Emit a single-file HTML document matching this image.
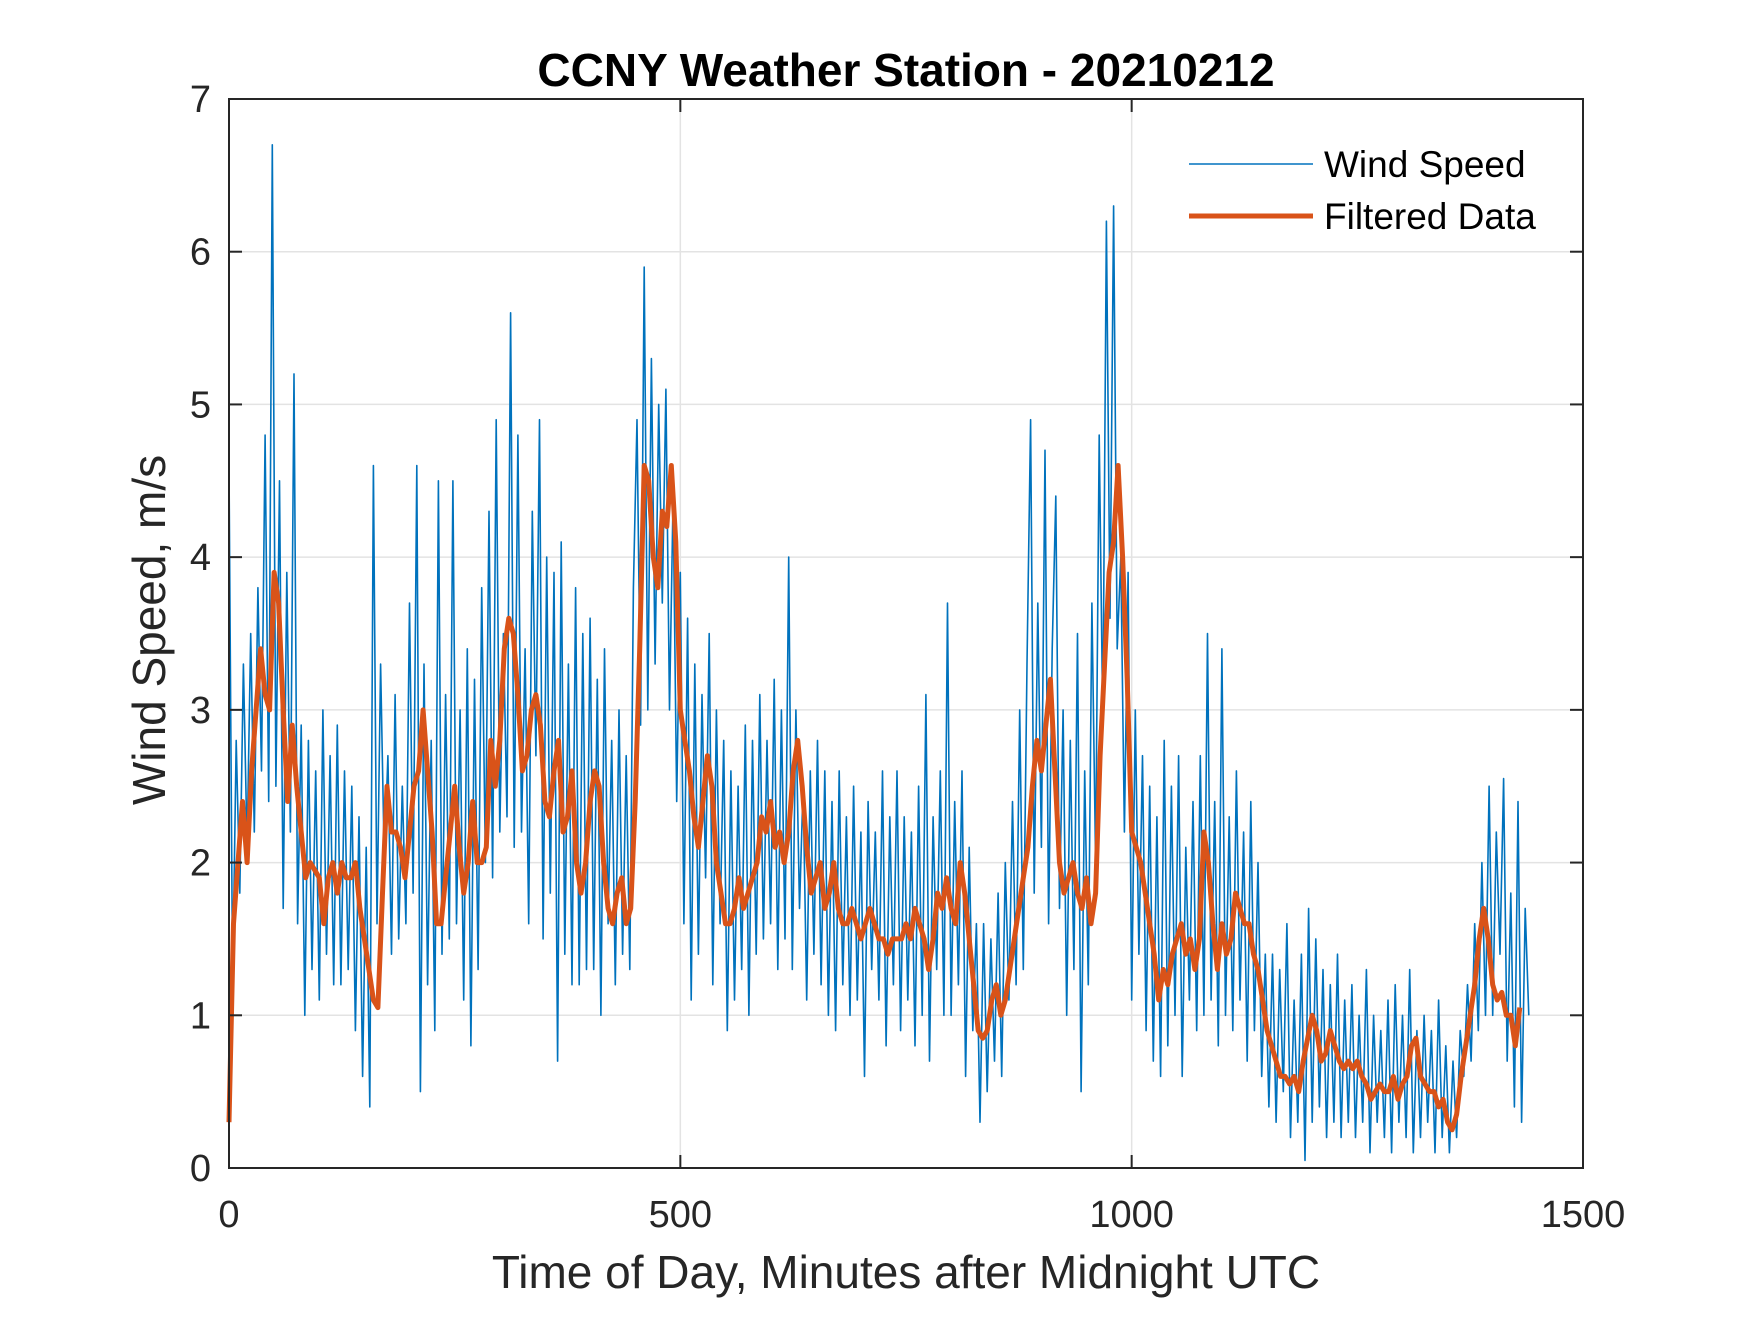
<!DOCTYPE html>
<html><head><meta charset="utf-8"><style>
html,body{margin:0;padding:0;background:#fff}
svg text{font-family:"Liberation Sans",Arial,sans-serif;fill:#262626}
</style></head><body>
<svg id="chart" width="1750" height="1313" xmlns="http://www.w3.org/2000/svg">
<rect width="1750" height="1313" fill="#fff"/>
<g id="grid"></g>
<g id="series"></g>
<rect x="229" y="99" width="1354" height="1069" fill="none" stroke="#262626" stroke-width="2"/>
<g id="ticks"></g>
<text x="906" y="86" text-anchor="middle" font-size="46" font-weight="bold" fill="#000" style="fill:#000">CCNY Weather Station - 20210212</text>
<text x="906" y="1288" text-anchor="middle" font-size="46">Time of Day, Minutes after Midnight UTC</text>
<text transform="translate(165,630) rotate(-90)" text-anchor="middle" font-size="46">Wind Speed, m/s</text>
<g>
<line x1="1189" y1="164" x2="1313" y2="164" stroke="#0072BD" stroke-width="1.6"/>
<text x="1324" y="177" font-size="37" style="fill:#000">Wind Speed</text>
<line x1="1189" y1="216" x2="1313" y2="216" stroke="#D95319" stroke-width="5"/>
<text x="1324" y="229" font-size="37" style="fill:#000">Filtered Data</text>
</g>
</svg>
<script>
const rawStep = 4;
const rawValues = [
4.6,1.2,2.8,1.8,3.3,2.1,3.5,2.2,3.8,2.6,
4.8,2.4,6.7,2.5,4.5,1.7,3.9,2.2,5.2,1.6,
2.9,1.0,2.8,1.3,2.6,1.1,3.0,1.4,2.7,1.2,
2.9,1.2,2.6,1.3,2.5,0.9,2.3,0.6,2.1,0.4,
4.6,1.6,3.3,2.0,2.7,1.4,3.1,1.5,2.5,1.6,
3.7,1.8,4.6,0.5,3.3,1.2,2.8,0.9,4.5,1.4,
3.1,1.5,4.5,1.6,3.0,1.1,3.4,0.8,3.2,1.3,
3.8,2.0,4.3,1.9,4.9,2.2,3.5,2.3,5.6,2.1,
4.8,2.2,3.4,1.6,4.3,2.7,4.9,1.5,4.0,1.8,
3.9,0.7,4.1,1.4,3.3,1.2,3.8,1.2,3.5,1.3,
3.6,1.3,3.2,1.0,3.4,1.6,2.8,1.2,3.0,1.4,
2.7,1.3,3.8,4.9,2.9,5.9,3.0,5.3,3.3,5.0,
3.7,5.1,3.0,4.4,2.4,3.9,1.6,3.6,1.1,3.3,
1.4,3.1,1.9,3.5,1.2,3.0,1.6,2.8,0.9,2.6,
1.1,2.5,1.3,2.9,1.0,2.8,1.4,3.1,1.5,2.8,
1.6,3.2,1.3,3.0,1.5,4.0,1.3,3.0,1.7,2.5,
1.1,2.6,1.4,2.8,1.2,2.6,1.0,2.4,0.9,2.6,
1.2,2.3,1.0,2.5,1.1,2.2,0.6,2.4,1.3,2.2,
1.1,2.6,0.8,2.3,1.2,2.6,0.9,2.3,1.1,2.2,
0.8,2.5,1.0,3.1,0.7,2.3,1.3,2.6,1.0,3.7,
1.0,2.4,1.2,2.6,0.6,2.1,0.9,1.6,0.3,1.6,
0.5,1.5,0.7,1.8,0.6,2.0,1.1,2.4,1.2,3.0,
1.3,3.3,4.9,1.8,3.7,2.1,4.7,1.6,3.4,4.4,
1.7,3.0,1.0,2.8,1.3,3.5,0.5,2.6,1.2,3.7,
2.0,4.8,2.9,6.2,3.6,6.3,3.4,4.0,2.2,3.9,
1.1,3.0,1.4,2.7,0.9,2.5,0.7,2.3,0.6,2.8,
0.8,2.5,1.0,2.7,0.6,2.1,1.1,2.4,0.9,2.7,
1.0,3.5,1.1,2.4,0.8,3.4,1.0,2.3,0.9,2.6,
1.1,2.2,0.7,2.4,0.9,2.0,0.6,1.4,0.4,1.4,
0.3,1.3,0.5,1.6,0.2,1.1,0.3,1.4,0.05,1.7,
0.3,1.5,0.4,1.3,0.2,1.2,0.3,1.4,0.2,1.1,
0.3,1.2,0.2,1.0,0.3,1.3,0.1,1.0,0.3,0.9,
0.2,1.1,0.1,1.2,0.3,1.0,0.2,1.3,0.1,0.9,
0.2,1.0,0.3,0.9,0.1,1.1,0.2,0.8,0.1,0.7,
0.2,0.9,0.6,1.2,0.7,1.6,0.9,2.0,1.0,2.5,
1.0,2.2,1.4,2.55,0.7,1.8,0.4,2.4,0.3,1.7,
1.0];
const filtStep = 5;
const filtValues = [
0.3,1.6,2.0,2.4,2.0,2.6,3.0,3.4,3.1,3.0,3.9,3.7,3.0,2.4,2.9,2.5,2.2,1.9,2.0,1.95,
1.9,1.6,1.9,2.0,1.8,2.0,1.9,1.9,2.0,1.7,1.5,1.3,1.1,1.05,1.8,2.5,2.2,2.2,2.1,1.9,
2.2,2.5,2.6,3.0,2.6,2.2,1.6,1.6,1.9,2.2,2.5,2.1,1.8,2.0,2.4,2.0,2.0,2.1,2.8,2.5,
2.8,3.4,3.6,3.5,3.1,2.6,2.7,3.0,3.1,2.9,2.4,2.3,2.6,2.8,2.2,2.3,2.6,2.0,1.8,2.0,
2.4,2.6,2.5,2.0,1.7,1.6,1.8,1.9,1.6,1.7,2.4,3.4,4.6,4.5,4.0,3.8,4.3,4.2,4.6,4.1,
3.0,2.8,2.6,2.3,2.1,2.4,2.7,2.5,2.0,1.8,1.6,1.6,1.7,1.9,1.7,1.8,1.9,2.0,2.3,2.2,
2.4,2.1,2.2,2.0,2.2,2.6,2.8,2.5,2.1,1.8,1.9,2.0,1.7,1.8,2.0,1.7,1.6,1.6,1.7,1.6,
1.5,1.6,1.7,1.6,1.5,1.5,1.4,1.5,1.5,1.5,1.6,1.5,1.7,1.6,1.5,1.3,1.5,1.8,1.7,1.9,
1.7,1.6,2.0,1.8,1.5,1.2,0.9,0.85,0.9,1.1,1.2,1.0,1.1,1.3,1.5,1.7,1.9,2.1,2.5,2.8,
2.6,2.9,3.2,2.6,2.0,1.8,1.9,2.0,1.8,1.7,1.9,1.6,1.8,2.7,3.3,3.9,4.1,4.6,4.0,3.2,
2.2,2.1,2.0,1.8,1.6,1.4,1.1,1.3,1.2,1.4,1.5,1.6,1.4,1.5,1.3,1.5,2.2,2.0,1.6,1.3,
1.6,1.4,1.5,1.8,1.7,1.6,1.6,1.4,1.3,1.1,0.9,0.8,0.7,0.6,0.6,0.55,0.6,0.5,0.7,0.85,
1.0,0.9,0.7,0.75,0.9,0.8,0.7,0.65,0.7,0.65,0.7,0.6,0.55,0.45,0.5,0.55,0.5,0.5,0.6,0.45,
0.55,0.6,0.8,0.85,0.6,0.55,0.5,0.5,0.4,0.45,0.3,0.25,0.35,0.6,0.8,1.0,1.2,1.5,1.7,1.5,
1.2,1.1,1.15,1.0,1.0,0.8,1.05];
const xTicks = [0,500,1000,1500];
const yTicks = [0,1,2,3,4,5,6,7];

const NS='http://www.w3.org/2000/svg';
const X0=229,X1=1583,Y0=1168,Y1=99;
function xs(v){return X0+(v-0)/(1500-0)*(X1-X0);}
function ys(v){return Y0-(v-0)/(7-0)*(Y0-Y1);}
function mk(tag,attrs,parent){const e=document.createElementNS(NS,tag);for(const k in attrs)e.setAttribute(k,attrs[k]);parent.appendChild(e);return e;}
const grid=document.getElementById('grid'),ticks=document.getElementById('ticks'),series=document.getElementById('series');
xTicks.forEach(t=>{
  const x=xs(t);
  if(t>0&&t<1500){const g=mk('line',{x1:x,x2:x,y1:Y1,y2:Y0,stroke:'#e3e3e3','stroke-width':1.5},grid);
  
  }
  const a=mk('line',{x1:x,x2:x,y1:Y0,y2:Y0-13,stroke:'#262626','stroke-width':2},ticks);
  
  
  const b=mk('line',{x1:x,x2:x,y1:Y1,y2:Y1+13,stroke:'#262626','stroke-width':2},ticks);
  
  
  const tx=mk('text',{x:x,y:1227,'text-anchor':'middle','font-size':38},ticks);
  tx.textContent=t;
  
  
});
yTicks.forEach(t=>{
  const y=ys(t);
  if(t>0&&t<7){const g=mk('line',{x1:X0,x2:X1,y1:y,y2:y,stroke:'#e3e3e3','stroke-width':1.5},grid);
  
  }
  const a=mk('line',{x1:X0,x2:X0+13,y1:y,y2:y,stroke:'#262626','stroke-width':2},ticks);
  
  
  const b=mk('line',{x1:X1,x2:X1-13,y1:y,y2:y,stroke:'#262626','stroke-width':2},ticks);
  
  
  const tx=mk('text',{x:211,y:y+13,'text-anchor':'end','font-size':38},ticks);
  tx.textContent=t;
  
  
});
const rawPts=rawValues.map((v,i)=>xs(i*rawStep).toFixed(1)+','+ys(v).toFixed(1)).join(' ');
const raw=mk('polyline',{points:rawPts,fill:'none',stroke:'#0072BD','stroke-width':1.6,'stroke-linejoin':'round'},series);


const fPts=filtValues.map((v,i)=>xs(i*filtStep).toFixed(1)+','+ys(v).toFixed(1)).join(' ');
const filt=mk('polyline',{points:fPts,fill:'none',stroke:'#D95319','stroke-width':5,'stroke-linejoin':'round'},series);


</script>
</body></html>
